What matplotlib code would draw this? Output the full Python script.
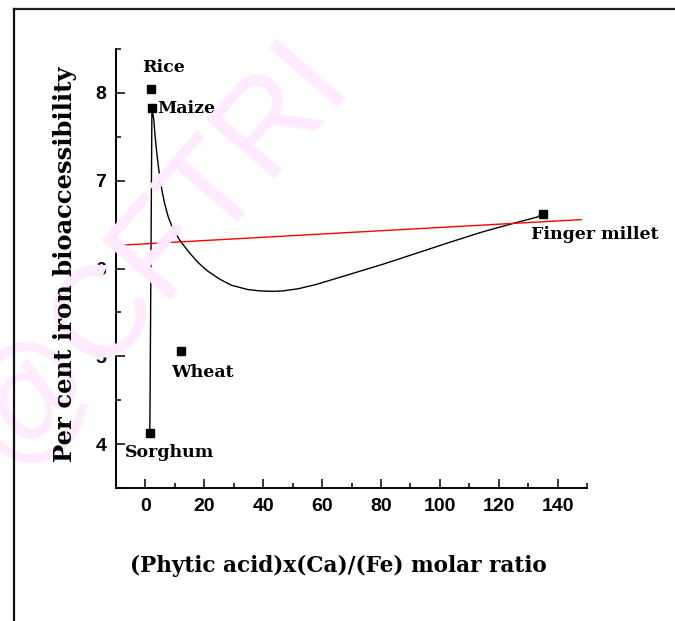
import numpy as np
import matplotlib
matplotlib.use("Agg")
import matplotlib.pyplot as plt
from matplotlib.lines import Line2D

# Cereal samples: phytate x Ca / Fe molar ratio vs. iron bioaccessibility (%)
cereals = ["Rice", "Maize", "Sorghum", "Wheat", "Finger millet"]
molar_ratio = [1.8, 2.2, 1.5, 12.2, 134.9]
bioaccess = [8.05, 7.83, 4.13, 5.06, 6.62]

# Smooth connecting curve (Sorghum -> Maize -> Finger millet), traced values
curve_x = [1.5, 2.2, 2.82, 3.28, 3.84, 4.52, 5.32, 6.45, 7.81, 9.63, 12.12,
           14.95, 17.79, 21.19, 25.16, 29.13, 34.8, 38.9, 43.5, 46.8, 52.0,
           58.2, 69.5, 80.8, 92.2, 103.5, 114.8, 126.2, 133.0, 134.9]
curve_y = [4.13, 7.83, 7.70, 7.51, 7.32, 7.13, 6.94, 6.75, 6.58, 6.43, 6.30,
           6.18, 6.07, 5.97, 5.88, 5.81, 5.76, 5.745, 5.74, 5.745, 5.77,
           5.82, 5.935, 6.05, 6.175, 6.30, 6.42, 6.525, 6.585, 6.62]

# Range over which the linear fit is drawn
fit_range = [-10, 148]

label_pos = {
    "Rice": (6.2, 8.29, "center"),
    "Maize": (4.0, 7.82, "left"),
    "Sorghum": (8.3, 3.9, "center"),
    "Wheat": (19.4, 4.81, "center"),
    "Finger millet": (152.8, 6.39, "center"),
}

W, H = 675, 621
fig = plt.figure(figsize=(W / 100, H / 100), dpi=100)

# pale watermark behind everything
fig.text(155 / W, 1 - 252 / H, "@CFTRI", fontsize=94, color="#ffeaff",
         family="Liberation Sans", rotation=49, ha="center", va="center",
         rotation_mode="anchor", zorder=0)

# outer frame (top and left edges)
fig.add_artist(Line2D([13.5 / W, 1.0], [1 - 8.5 / H, 1 - 8.5 / H],
                      transform=fig.transFigure, color="#222222", lw=1.6))
fig.add_artist(Line2D([13.5 / W, 13.5 / W], [1 - 8.5 / H, 0.0],
                      transform=fig.transFigure, color="#111111", lw=1.6))

ax = fig.add_axes([116 / W, 1 - 488 / H, (587 - 116) / W, (488 - 49) / H])
ax.patch.set_alpha(0)

ax.plot(curve_x, curve_y, color="black", lw=1.0, zorder=2)

slope, intercept = np.polyfit(molar_ratio, bioaccess, 1)
fx = np.array(fit_range, dtype=float)
ax.plot(fx, intercept + slope * fx, color="red", lw=1.0, zorder=2)

ax.plot(molar_ratio, bioaccess, "s", color="black", markersize=6.2,
        linestyle="none", zorder=3)

serif = dict(family="DejaVu Serif", fontweight="bold")
for name in cereals:
    x, y, ha = label_pos[name]
    ax.text(x, y, name, fontsize=12.5, ha=ha, va="center", clip_on=False,
            **serif)

ax.set_xlim(-10, 150)
ax.set_ylim(3.5, 8.5)
ax.set_xticks(np.arange(0, 141, 20))
ax.set_xticks(np.arange(-10, 151, 10), minor=True)
ax.set_yticks([4, 5, 6, 7, 8])
ax.set_yticks(np.arange(3.5, 8.51, 0.5), minor=True)

for s in ("top", "right"):
    ax.spines[s].set_visible(False)
for s in ("left", "bottom"):
    ax.spines[s].set_linewidth(1.4)

ax.tick_params(which="major", direction="in", length=6.5, width=1.1,
               labelsize=14, pad=7)
ax.tick_params(which="minor", direction="in", length=3.6, width=1.1)
for lab in ax.get_xticklabels() + ax.get_yticklabels():
    lab.set_family("Liberation Sans")
    lab.set_fontweight("bold")

fig.text(338.5 / W, 1 - 566 / H, "(Phytic acid)x(Ca)/(Fe) molar ratio",
         fontsize=15.5, ha="center", va="center", **serif)
fig.text(65 / W, 1 - 264 / H, "Per cent iron bioaccessibility",
         fontsize=17.5, ha="center", va="center", rotation=90, **serif)

fig.savefig("out.png", dpi=100)
